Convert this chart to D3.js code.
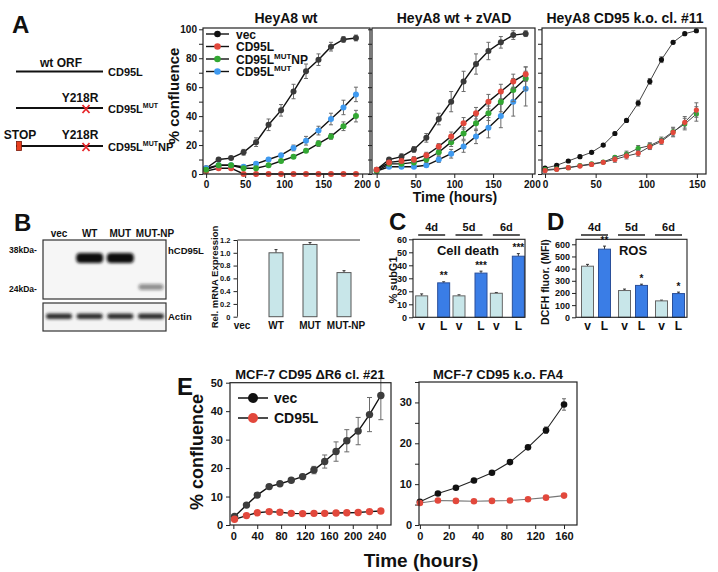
<!DOCTYPE html>
<html><head><meta charset="utf-8">
<script src="https://cdn.jsdelivr.net/npm/d3@7"></script>
<style>
body{margin:0;background:#fff}
svg{display:block}
text{font-family:"Liberation Sans",Arial,Helvetica,sans-serif;font-weight:bold;fill:#111}
</style>
</head><body>
<svg id="fig" width="718" height="572"></svg>
<script>
// ---------------- DATA ----------------
// Panel A: HeyA8 wt
const timeA = [0,16,32,48,64,80,96,112,128,144,160,176,192];
const wtVec    = [4,10,11,15,22,34,44,57,71,79,88,93,94];
const wtVecErr = [1,1,1,2,3,4,4,5,5,4,3,2,2];
const wtL      = [2,4,4,0,0,0,0,0,0,0,0,0,0];
const wtLErr   = [1,1,1,0,0,0,0,0,0,0,0,0,0];
const wtNP     = [3,6,6,4,4,6,9,12,16,21,26,33,40];
const wtNPErr  = [1,1,1,1,1,1,1,1,1,2,2,3,4];
const wtMUT    = [4,6,6,5,7,10,13,18,23,30,38,46,55];
const wtMUTErr = [1,1,1,1,1,1,1,2,3,3,4,5,5];
// Panel A: HeyA8 wt + zVAD
const zvVec    = [3,10,12,17,25,38,50,64,76,85,91,96,97];
const zvVecErr = [1,1,2,2,3,4,7,7,7,6,4,3,2];
const zvL      = [3,8,9,10,13,19,26,35,42,50,57,64,69];
const zvLErr   = [1,1,1,2,2,2,3,4,4,5,5,5,5];
const zvNP     = [2,7,7,8,10,15,22,28,35,42,50,58,66];
const zvNPErr  = [1,1,1,1,2,2,3,4,5,5,7,8,8];
const zvMUT    = [2,5,5,5,6,10,14,19,26,32,40,50,59];
const zvMUTErr = [1,1,1,1,1,2,3,4,5,7,8,10,12];
// Panel A: HeyA8 CD95 k.o. cl. #11
const timeKO  = [0,11.5,23,34.5,46,57.5,69,80.5,92,103.5,115,126.5,138,149.5];
const koVec   = [4,6,9,12,15,20,28,37,49,64,79,91,97,99];
const koVecErr= [1,1,1,1,1,1,1,1,2,2,2,1,1,1];
const koNP    = [3,3.5,4.4,5.8,7,8.3,11.5,13.8,17.7,19.6,23.5,29.3,34.5,41.5];
const koNPErr = [1,1,1,1,1,1,1,2,2,2,2,3,4,5];
const koL     = [2.4,3.2,4.4,5.5,6.6,8.1,10.1,12.4,14.3,18.9,22.5,28.7,35.7,44.2];
const koLErr  = [1,1,1,1,1,1,2,2,2,2,2,3,4,5];
const yTicksA = [0,10,20,30,40,50,60,70,80,90,100];
const xTicksA = [0,50,100,150,200];
const xTicksKO = [0,50,100,150];

// Panel B
const lanes = ['vec','WT','MUT','MUT-NP'];
const blotCD95L = [0,1,1,0.45];
const blotActin = [1,1,1,1];
const mrna    = [0,1.0,1.13,0.69];
const mrnaErr = [0,0.05,0.03,0.03];
const yTicksB = [0,0.2,0.4,0.6,0.8,1.0,1.2];

// Panels C, D
const days = ['4d','5d','6d'];
const subG1Vec = [16.5,16.5,18.5];
const subG1VecErr = [1.5,0.8,0.6];
const subG1L = [26.5,34,47];
const subG1LErr = [0.8,1.5,2];
const subG1Sig = ['**','***','***'];
const rosVec = [420,220,135];
const rosVecErr = [15,12,6];
const rosL = [560,262,195];
const rosLErr = [25,10,12];
const rosSig = ['**','*','*'];
const yTicksC = [0,10,20,30,40,50,60];
const yTicksD = [0,100,200,300,400,500,600];

// Panel E
const timeE1 = [2,22,40,60,78,97,116,135,153,172,190,209,228,247];
const e1Vec = [3,7,10.5,13.5,14.5,15.7,17,19.3,22.3,25.8,29.6,33,38.8,45.5];
const e1VecErr = [0.5,0.5,0.5,0.6,0.6,0.7,0.8,1.3,2.3,3.4,3.9,4.8,6,8.5];
const e1L = [2,3.3,4.3,4.7,4.5,4.1,4,4.1,4.1,4.2,4.3,4.4,4.7,4.9];
const e1LErr = [0.3,0.3,0.4,0.6,0.6,0.5,0.4,0.4,0.5,0.4,0.4,0.4,0.4,0.4];
const timeE2 = [0,20,40,60,80,100,120,140,160];
const e2Vec = [5.7,7.7,9.1,10.9,12.8,15.4,19,23.2,29.5];
const e2VecErr = [0.3,0.3,0.3,0.3,0.3,0.4,0.5,0.8,1.4];
const e2L = [5.4,6,5.9,5.8,5.9,6,6.3,6.7,7.2];
const e2LErr = [0.3,0.3,0.3,0.3,0.3,0.3,0.3,0.3,0.5];
const xTicksE1 = [0,40,80,120,160,200,240];
const yTicksE1 = [0,10,20,30,40,50];
const xTickPosE2 = [0,32,64,96,128,160];
const xTickLabE2 = ['0','20','40','80','120','160'];
const yTicksE2 = [0,5,10,15,20,25,30,35];

// ---------------- STYLE ----------------
const C_RED = '#e2483c', C_GREEN = '#33a833', C_BLUE = '#3f9af0';
const C_LIGHT = '#c8e6e9', C_DARK = '#3a7de6';

const svg = d3.select('#fig');
svg.append('rect').attr('width',718).attr('height',572).attr('fill','#fff');
const defs = svg.append('defs');
defs.append('filter').attr('id','blur').attr('x','-20%').attr('y','-50%').attr('width','140%').attr('height','200%')
  .append('feGaussianBlur').attr('stdDeviation',1.4);

function txt(x,y,s,size,anchor='start',rot=false){
  const t = svg.append('text').attr('x',x).attr('y',y).attr('font-size',size).attr('text-anchor',anchor).text(s);
  if(rot) t.attr('transform',`rotate(-90,${x},${y})`);
  return t;
}
function styleAxis(g,size){
  g.select('.domain').remove();
  g.selectAll('.tick line').attr('stroke','#222');
  g.selectAll('.tick text').attr('font-size',size).attr('fill','#111')
   .style('font-family','"Liberation Sans",Arial,sans-serif').style('font-weight','bold');
}
function frame(x0,y0,x1,y1,stroke='#222',w=1.2){
  svg.append('rect').attr('x',x0).attr('y',y0).attr('width',x1-x0).attr('height',y1-y0)
    .attr('fill','none').attr('stroke',stroke).attr('stroke-width',w);
}
function series(xs,ys,times,vals,errs,color,r,lineColor='#111',lineW=1.4,errCap=2){
  const g = svg.append('g');
  const pts = times.map((t,i)=>({t,v:vals[i],e:errs?errs[i]:0}));
  g.append('path').datum(pts).attr('fill','none').attr('stroke',lineColor).attr('stroke-width',lineW)
    .attr('d',d3.line().x(p=>xs(p.t)).y(p=>ys(p.v)));
  g.selectAll(null).data(pts.filter(p=>p.e>0)).join('path')
    .attr('fill','none').attr('stroke','#6a6a6a').attr('stroke-width',1)
    .attr('d',p=>{const x=xs(p.t),a=ys(p.v-p.e),b=ys(p.v+p.e);
      return `M${x},${a}V${b}M${x-errCap},${a}H${x+errCap}M${x-errCap},${b}H${x+errCap}`;});
  g.selectAll(null).data(pts).join('circle')
    .attr('cx',p=>xs(p.t)).attr('cy',p=>ys(p.v)).attr('r',r).attr('fill',color);
}

// ---------------- PANEL A ----------------
txt(12,33,'A',24);
txt(61,67,'wt ORF',12,'middle');
svg.append('line').attr('x1',16).attr('x2',103).attr('y1',71.5).attr('y2',71.5).attr('stroke','#111').attr('stroke-width',2);
txt(108,76,'CD95L',11);
txt(80,102,'Y218R',12,'middle');
svg.append('line').attr('x1',16).attr('x2',103).attr('y1',108).attr('y2',108).attr('stroke','#111').attr('stroke-width',2);
function redX(cx,cy){svg.append('path').attr('d',`M${cx-3.5},${cy-4}L${cx+3.5},${cy+4}M${cx+3.5},${cy-4}L${cx-3.5},${cy+4}`).attr('stroke','#e8262a').attr('stroke-width',1.8);}
redX(86,109);
const t1 = txt(108,112.5,'CD95L',11); t1.append('tspan').attr('font-size',7).attr('dy',-5).text('MUT');
txt(20,139,'STOP',12,'middle');
txt(80,139,'Y218R',12,'middle');
svg.append('line').attr('x1',16).attr('x2',103).attr('y1',146).attr('y2',146).attr('stroke','#111').attr('stroke-width',2);
svg.append('rect').attr('x',16.5).attr('y',141.5).attr('width',5).attr('height',9).attr('fill','#e8401f').attr('stroke','#7a1a0a').attr('stroke-width',0.8);
redX(86,147);
const t2 = txt(108,150.5,'CD95L',11); t2.append('tspan').attr('font-size',7).attr('dy',-5).text('MUT');
t2.append('tspan').attr('dy',5).text('NP');

const yA = d3.scaleLinear([0,100.9],[174,28]);
const xA1 = d3.scaleLinear([-4,210],[203,370]);
const xA2 = d3.scaleLinear([-6,204],[372,535]);
const xA3 = d3.scaleLinear([-3,159],[542,706]);

function axesA(xs,xt,x0,labels){
  const gy = svg.append('g').attr('transform',`translate(${x0},0)`)
    .call(d3.axisLeft(yA).tickValues(yTicksA).tickSize(4).tickPadding(2)
      .tickFormat(d=>labels && d%20===0 ? d : ''));
  styleAxis(gy,10);
  const gx = svg.append('g').attr('transform',`translate(0,174)`)
    .call(d3.axisBottom(xs).tickValues(xt).tickSize(4).tickPadding(3));
  styleAxis(gx,10);
}
axesA(xA1,xTicksA,203,true);
axesA(xA2,xTicksA,372,false);
axesA(xA3,xTicksKO,542,false);

series(xA1,yA,timeA,wtVec,wtVecErr,'#3a3a3a',3);
series(xA1,yA,timeA,wtL,wtLErr,C_RED,3);
series(xA1,yA,timeA,wtMUT,wtMUTErr,C_BLUE,3);
series(xA1,yA,timeA,wtNP,wtNPErr,C_GREEN,3);

series(xA2,yA,timeA,zvVec,zvVecErr,'#3a3a3a',3);
series(xA2,yA,timeA,zvMUT,zvMUTErr,C_BLUE,3);
series(xA2,yA,timeA,zvNP,zvNPErr,C_GREEN,3);
series(xA2,yA,timeA,zvL,zvLErr,C_RED,3);

series(xA3,yA,timeKO,koVec,koVecErr,'#111',2.6,'#444',1);
series(xA3,yA,timeKO,koNP,koNPErr,C_GREEN,2.6,'#444',1);
series(xA3,yA,timeKO,koL,koLErr,C_RED,2.6,'#444',1);

frame(203,28,370,174);
frame(372,28,535,174);
frame(542,28,706,174);

txt(286,23,'HeyA8 wt',14,'middle');
txt(454,23,'HeyA8 wt + zVAD',14,'middle');
txt(625,23,'HeyA8 CD95 k.o. cl. #11',14,'middle');
txt(455,202,'Time (hours)',14,'middle');
txt(179,96,'% confluence',15,'middle',true);

// legend
const legA = [
  {c:'#111',lab:['vec']},
  {c:C_RED,lab:['CD95L']},
  {c:C_GREEN,lab:['CD95L','MUT','NP']},
  {c:C_BLUE,lab:['CD95L','MUT']}
];
const legY = [34,46.5,59,71.5];
legA.forEach((d,i)=>{
  const y = legY[i];
  svg.append('line').attr('x1',206).attr('x2',229).attr('y1',y).attr('y2',y).attr('stroke','#111').attr('stroke-width',1.4);
  svg.append('circle').attr('cx',217.5).attr('cy',y).attr('r',3.3).attr('fill',d.c);
  const t = txt(236,y+4.5,d.lab[0],12);
  if(d.lab[1]) t.append('tspan').attr('font-size',8).attr('dy',-5).text(d.lab[1]);
  if(d.lab[2]) t.append('tspan').attr('dy',5).text(d.lab[2]);
});

// ---------------- PANEL B ----------------
txt(14,231,'B',24);
const xLane = d3.scalePoint(lanes,[59,151]);
lanes.forEach(l=>txt(xLane(l)+(l==='MUT-NP'?4:0),237,l,10,'middle'));
svg.append('rect').attr('x',43).attr('y',240).attr('width',123).attr('height',59).attr('fill','#f6f6f6');
svg.append('rect').attr('x',43).attr('y',303).attr('width',123).attr('height',28).attr('fill','#f4f4f4');
const gBlot = svg.append('g').attr('filter','url(#blur)');
lanes.forEach((l,i)=>{
  if(blotCD95L[i]>=0.9){
    gBlot.append('rect').attr('x',xLane(l)-13.5).attr('y',253).attr('width',27).attr('height',10).attr('rx',4)
      .attr('fill','#111');
  } else if(blotCD95L[i]>0){
    gBlot.append('rect').attr('x',xLane(l)-12.5).attr('y',284).attr('width',25).attr('height',6).attr('rx',3)
      .attr('fill','#111').attr('opacity',blotCD95L[i]);
  }
  gBlot.append('rect').attr('x',xLane(l)-13).attr('y',313.5).attr('width',26).attr('height',5.5).attr('rx',2.5)
    .attr('fill','#1a1a1a').attr('opacity',blotActin[i]*0.9);
});
frame(43,240,166,299,'#333',1.2);
frame(43,303,166,331,'#333',1.2);
txt(9,253,'38kDa-',8.5);
txt(9,292,'24kDa-',8.5);
txt(168,253.5,'hCD95L',9.5);
txt(168,320,'Actin',9.5);

const yB = d3.scaleLinear([0,1.2],[316.7,240]);
const xB = d3.scalePoint(lanes,[242,344]);
const gBy = svg.append('g').attr('transform','translate(237.5,0)')
  .call(d3.axisLeft(yB).tickValues(yTicksB).tickSize(4).tickPadding(3).tickFormat(d=>d===0?'0':d3.format('.1f')(d)));
styleAxis(gBy,7.5);
svg.append('line').attr('x1',237.5).attr('x2',237.5).attr('y1',240).attr('y2',316.7).attr('stroke','#444');
svg.append('line').attr('x1',237.5).attr('x2',360).attr('y1',240).attr('y2',240).attr('stroke','#777').attr('stroke-width',1.5);
lanes.forEach((l,i)=>{
  if(mrna[i]<=0) return;
  const x=xB(l);
  svg.append('line').attr('x1',x).attr('x2',x).attr('y1',yB(mrna[i])).attr('y2',yB(mrna[i]+mrnaErr[i])).attr('stroke','#333');
  svg.append('line').attr('x1',x-1.5).attr('x2',x+1.5).attr('y1',yB(mrna[i]+mrnaErr[i])).attr('y2',yB(mrna[i]+mrnaErr[i])).attr('stroke','#333');
  svg.append('rect').attr('x',x-7).attr('y',yB(mrna[i])).attr('width',14).attr('height',yB(0)-yB(mrna[i]))
    .attr('fill',C_LIGHT).attr('stroke','#555').attr('stroke-width',1);
});
lanes.forEach(l=>txt(xB(l)+(l==='MUT-NP'?2:0),329,l,10,'middle'));
txt(218,277,'Rel. mRNA Expression',9.5,'middle',true);

// ---------------- PANELS C & D ----------------
function barPanel(x0,x1,yScale,ticks,vVals,vErr,lVals,lErr,sig,off){
  const xg = d3.scaleBand(days,[x0,x1]);
  const gy = svg.append('g').attr('transform',`translate(${x0},0)`)
    .call(d3.axisLeft(yScale).tickValues(ticks).tickSize(4).tickPadding(2));
  styleAxis(gy,9);
  days.forEach((d,i)=>{
    const c = xg(d)+xg.bandwidth()/2;
    txt(c,231,d,11,'middle');
    svg.append('line').attr('x1',c-13.5).attr('x2',c+13.5).attr('y1',235).attr('y2',235).attr('stroke','#222').attr('stroke-width',1.5);
    [[c+off[0],vVals[i],vErr[i],C_LIGHT,'#666','v'],[c+off[1],lVals[i],lErr[i],C_DARK,'#2a4f9a','L']].forEach(([x,v,e,fill,st,lab])=>{
      svg.append('line').attr('x1',x).attr('x2',x).attr('y1',yScale(v)).attr('y2',yScale(v+e)).attr('stroke','#333');
      svg.append('line').attr('x1',x-1.5).attr('x2',x+1.5).attr('y1',yScale(v+e)).attr('y2',yScale(v+e)).attr('stroke','#333');
      svg.append('rect').attr('x',x-6).attr('y',yScale(v)).attr('width',12).attr('height',yScale(0)-yScale(v))
        .attr('fill',fill).attr('stroke',st).attr('stroke-width',1);
      txt(x,330,lab,12,'middle');
    });
    txt(c+off[1],yScale(lVals[i]+lErr[i])-2.5,sig[i],10,'middle');
  });
  frame(x0,239.3,x1,317.3,'#222',1.1);
}
txt(389,230,'C',24);
const yC = d3.scaleLinear([0,60],[317.3,239.3]);
barPanel(413,525,yC,yTicksC,subG1Vec,subG1VecErr,subG1L,subG1LErr,subG1Sig,[-10,12]);
txt(468,255,'Cell death',13,'middle');
txt(397,280,'% subG1',11,'middle',true);

txt(547,230,'D',24);
const yD = d3.scaleLinear([0,641],[317.3,239.3]);
barPanel(576,687,yD,yTicksD,rosVec,rosVecErr,rosL,rosLErr,rosSig,[-7,10]);
txt(633,255,'ROS',13,'middle');
txt(549,282,'DCFH fluor. (MFI)',10.5,'middle',true);

// ---------------- PANEL E ----------------
txt(177,395,'E',24);
const xE1 = d3.scaleLinear([-5.6,264],[230,391]);
const yE1 = d3.scaleLinear([0,50],[525,382.7]);
const gE1y = svg.append('g').attr('transform','translate(230,0)')
  .call(d3.axisLeft(yE1).tickValues(yTicksE1).tickSize(4).tickPadding(3));
styleAxis(gE1y,11);
const gE1x = svg.append('g').attr('transform','translate(0,525)')
  .call(d3.axisBottom(xE1).tickValues(xTicksE1).tickSize(4).tickPadding(3));
styleAxis(gE1x,11);
series(xE1,yE1,timeE1,e1Vec,e1VecErr,'#3d3d3d',3.7,'#111',1.4,2.5);
series(xE1,yE1,timeE1,e1L,e1LErr,C_RED,3.7,'#111',1.4,2.5);
frame(230,382.7,391,525);
[['vec','#111',398],['CD95L',C_RED,418]].forEach(([lab,c,y])=>{
  svg.append('line').attr('x1',238).attr('x2',268).attr('y1',y).attr('y2',y).attr('stroke','#111').attr('stroke-width',1.5);
  svg.append('circle').attr('cx',253).attr('cy',y).attr('r',5).attr('fill',c);
  txt(274,y+5,lab,14);
});
txt(310,378.5,'MCF-7 CD95 \u0394R6 cl. #21',13,'middle');

const xE2 = d3.scaleLinear([-1,174.4],[419,577]);
const yE2 = d3.scaleLinear([0,35],[525,382]);
const gE2y = svg.append('g').attr('transform','translate(419,0)')
  .call(d3.axisLeft(yE2).tickValues(yTicksE2).tickSize(4).tickPadding(3).tickFormat(d=>d%10===0?d:''));
styleAxis(gE2y,11);
const gE2x = svg.append('g').attr('transform','translate(0,525)')
  .call(d3.axisBottom(xE2).tickValues(xTickPosE2).tickSize(4).tickPadding(3).tickFormat((d,i)=>xTickLabE2[i]));
styleAxis(gE2x,11);
series(xE2,yE2,timeE2,e2Vec,e2VecErr,'#111',3.3,'#222',1.1,2);
series(xE2,yE2,timeE2,e2L,e2LErr,C_RED,3.3,'#777',1.1,2);
frame(419,382,577,525);
txt(498,378.5,'MCF-7 CD95 k.o. FA4',13,'middle');

txt(421,567,'Time (hours)',19,'middle');
txt(203,452,'% confluence',18,'middle',true);
</script>
</body></html>
